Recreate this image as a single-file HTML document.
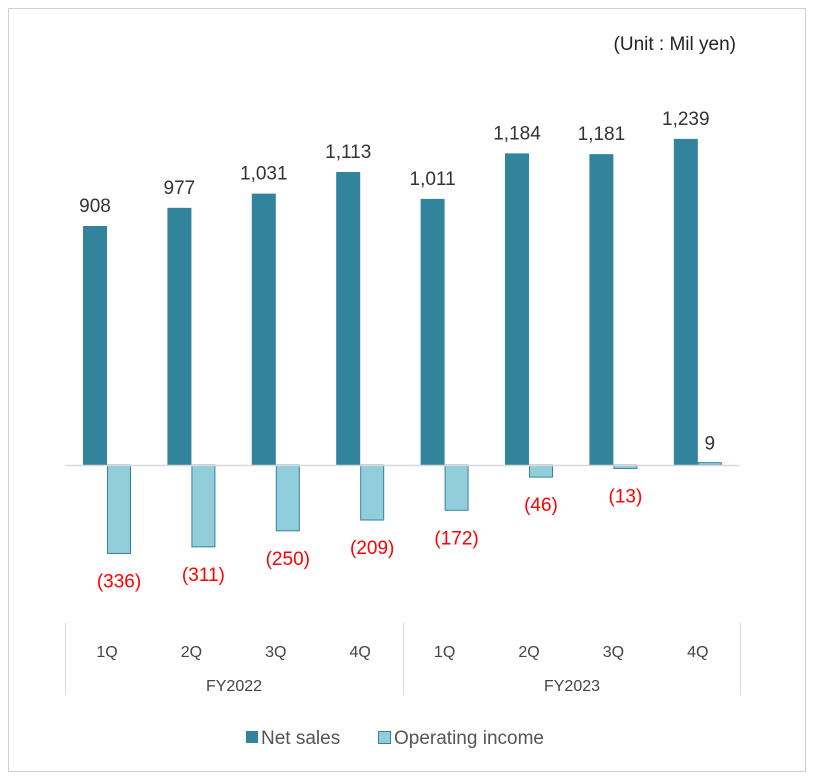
<!DOCTYPE html>
<html><head><meta charset="utf-8"><style>
html,body{margin:0;padding:0;background:#fff;}
svg{display:block;font-family:"Liberation Sans","DejaVu Sans",sans-serif;}
</style></head><body>
<svg id="chart" width="814" height="778">
<rect x="8.5" y="8.5" width="797" height="763" fill="#fff" stroke="#d0d0d0"/>
<text x="736" y="50" text-anchor="end" font-size="19" fill="#222">(Unit : Mil yen)</text>
<g id="bars"></g>
<line x1="65" y1="465.5" x2="740" y2="465.5" stroke="#d9d9d9" stroke-width="1.5"/>
<line x1="65.5" y1="623" x2="65.5" y2="695" stroke="#d9d9d9"/>
<line x1="403.5" y1="623" x2="403.5" y2="695" stroke="#d9d9d9"/>
<line x1="740.5" y1="623" x2="740.5" y2="695" stroke="#d9d9d9"/>
<g id="xlabels"></g>
<text x="234" y="691" text-anchor="middle" font-size="16" fill="#444">FY2022</text>
<text x="572" y="691" text-anchor="middle" font-size="16" fill="#444">FY2023</text>
<g>
<rect x="246" y="731" width="12" height="12" fill="#31849b"/>
<text x="261" y="744" font-size="19" fill="#555">Net sales</text>
<rect x="378.5" y="731.5" width="12" height="12" fill="#92cddc" stroke="#31849b"/>
<text x="394" y="744" font-size="19" fill="#555">Operating income</text>
</g>
</svg>
<script>
const categories = ["1Q","2Q","3Q","4Q","1Q","2Q","3Q","4Q"];
const netSales = [908,977,1031,1113,1011,1184,1181,1239];
const opIncome = [-336,-311,-250,-209,-172,-46,-13,9];
const NS="http://www.w3.org/2000/svg";
const baseY=465, scale=239/908, x0=83, step=84.4, bw=24;
function y(v){return baseY - v*scale;}
function xc(i){return x0 + i*step;}
function fmt(v){const s=Math.abs(v).toLocaleString('en-US');return v<0?'('+s+')':s;}
const g=document.getElementById('bars'), xl=document.getElementById('xlabels');
function mk(tag,attrs,parent){const e=document.createElementNS(NS,tag);for(const k in attrs)e.setAttribute(k,attrs[k]);parent.appendChild(e);return e;}
categories.forEach((c,i)=>{
  const x=xc(i), v=netSales[i];
  const r=mk('rect',{x:x,y:y(v),width:bw,height:baseY-y(v),fill:'#31849b'},g);
  
  
  const t=mk('text',{x:x+bw/2,y:y(v)-14,'text-anchor':'middle','font-size':19,fill:'#333'},g);
  t.textContent=fmt(v);
  
  
  const o=opIncome[i], ox=x+bw;
  const top=Math.min(y(o),baseY), h=Math.max(Math.abs(y(o)-baseY),1.5);
  const r2=mk('rect',{x:ox+0.5,y:top,width:bw-1,height:h,fill:'#92cddc',stroke:'#31849b','stroke-width':1},g);
  
  
  const t2=mk('text',{x:ox+bw/2,'text-anchor':'middle','font-size':19,fill:o<0?'#ff0000':'#333'},g);
  t2.setAttribute('y',o<0?y(o)+34:y(o)-13);
  t2.textContent=fmt(o);
  
  
  const lt=mk('text',{x:x+bw,y:657,'text-anchor':'middle','font-size':16,fill:'#444'},xl);
  lt.textContent=c;
  
  
});
</script>
</body></html>
